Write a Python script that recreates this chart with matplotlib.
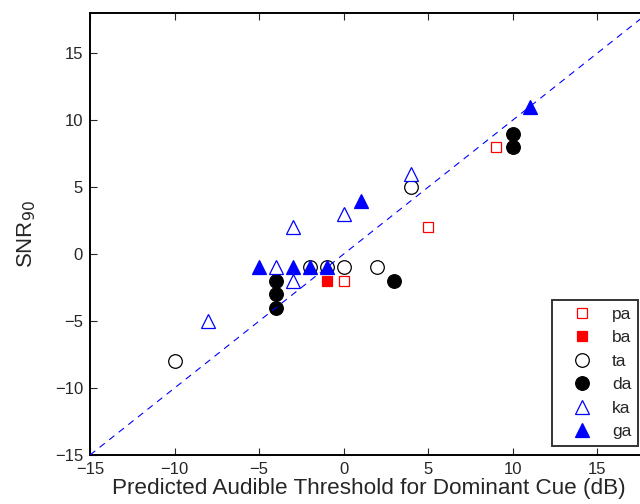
import matplotlib
matplotlib.use("Agg")
import matplotlib.pyplot as plt

plt.rcParams['font.family'] = ['Liberation Sans', 'DejaVu Sans']

pa_x = [0, 5, 9]
pa_y = [-2, 2, 8]
ba_x = [-1, 10]
ba_y = [-2, 8]
ta_x = [-10, -2, -1, 0, 2, 4]
ta_y = [-8, -1, -1, -1, -1, 5]
da_x = [-4, -4, -4, 3, 10, 10]
da_y = [-2, -3, -4, -2, 9, 8]
ka_x = [-8, -4, -3, -3, 0, 4]
ka_y = [-5, -1, 2, -2, 3, 6]
ga_x = [-5, -3, -2, -1, 1, 11]
ga_y = [-1, -1, -1, -1, 4, 11]
line_xy = [-15, 18]
xticks = [-15, -10, -5, 0, 5, 10, 15]
yticks = [-15, -10, -5, 0, 5, 10, 15]

fig = plt.figure(figsize=(6.4, 5.04), dpi=100)
ax = fig.add_axes([90/640, 49/504, 558/640, 442/504])

ax.plot(pa_x, pa_y, 's', ms=7.5, mfc='white', mec='red', mew=0.9, ls='none', label='pa', zorder=3)
ax.plot(ba_x, ba_y, 's', ms=7.5, mfc='red', mec='red', mew=0.9, ls='none', label='ba', zorder=3)
ax.plot(ta_x, ta_y, 'o', ms=9.8, mfc='white', mec='black', mew=0.9, ls='none', label='ta', zorder=3)
ax.plot(da_x, da_y, 'o', ms=9.8, mfc='black', mec='black', mew=0.9, ls='none', label='da', zorder=3)
ax.plot(line_xy, line_xy, '--', color='blue', lw=0.8, dashes=(6, 5), zorder=4)
ax.plot(ka_x, ka_y, '^', ms=10.5, mfc='white', mec='blue', mew=0.9, ls='none', label='ka', zorder=5)
ax.plot(ga_x, ga_y, '^', ms=10.5, mfc='blue', mec='blue', mew=0.9, ls='none', label='ga', zorder=5)

ax.set_xlim(-15, 18)
ax.set_ylim(-15, 18)
ax.set_xticks(xticks)
ax.set_yticks(yticks)
ax.tick_params(direction='in', length=5, width=0.8, labelsize=12, top=True, right=True,
               colors='#262626', labelcolor='#262626', pad=5)
for s in ax.spines.values():
    s.set_linewidth(1.4)
    s.set_color('black')

ax.set_xlabel('Predicted Audible Threshold for Dominant Cue (dB)', fontsize=16.2, color='#262626', labelpad=1)
ax.set_ylabel('SNR$_{90}$', fontsize=16, color='#262626', labelpad=12)

leg = ax.legend(loc='lower left', bbox_to_anchor=(0.828, 0.02), borderaxespad=0,
                fontsize=12.5, labelspacing=0.48, handlelength=2.7, handletextpad=0.35,
                frameon=True, fancybox=False, edgecolor='black', borderpad=0.4)
leg.get_frame().set_linewidth(1.4)
for t in leg.get_texts():
    t.set_color('#262626')

fig.savefig('out.png', dpi=100)
